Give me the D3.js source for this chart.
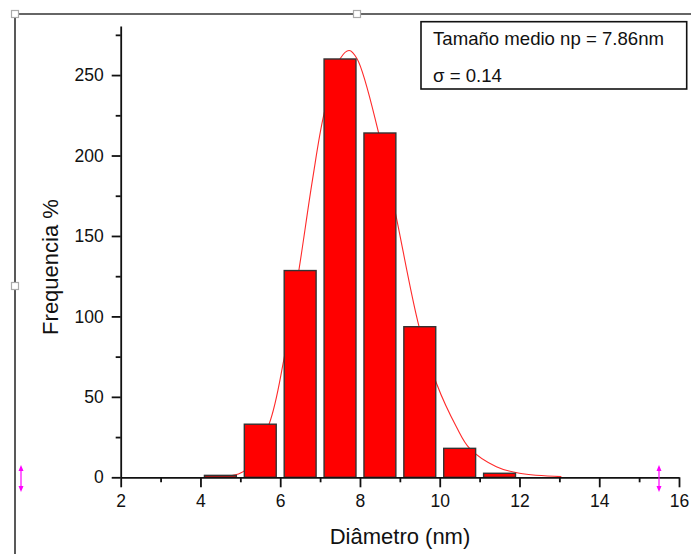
<!DOCTYPE html>
<html>
<head>
<meta charset="utf-8">
<script src="https://cdn.jsdelivr.net/npm/d3@7"></script>
<style>
  body { margin: 0; background: #fff; }
  svg { display: block; font-family: "Liberation Sans", Arial, sans-serif; }
</style>
</head>
<body>
<svg id="chart" width="691" height="554"></svg>
<script>
// histogram bins (left edge of each 1 nm bin) and counts
const binStarts = [4, 5, 6, 7, 8, 9, 10, 11]
const binCounts = [1.2, 33, 128.5, 260, 214, 93.6, 18, 2.5]

// fitted curve
const fitX = [4.5, 4.82, 5.12, 5.72, 6.09, 6.47, 6.81, 7.10, 7.51, 7.73, 7.93, 8.46, 8.90, 9.48, 9.92, 10.42, 10.75, 11.42, 12.0, 13.05]
const fitY = [0, 1.2, 4.5, 33, 73, 129, 185, 226, 260.5, 265.3, 260, 214.8, 163, 93.8, 58.3, 31.3, 18, 6.6, 2.5, 0.4]

const xMajor = [2, 4, 6, 8, 10, 12, 14, 16]
const xMinor = [3, 5, 7, 9, 11, 13, 15]
const yMajor = [0, 50, 100, 150, 200, 250]
const yMinor = [25, 75, 125, 175, 225, 275]

const infoLines = ["Tamaño medio np = 7.86nm", "σ = 0.14"]

const svg = d3.select("#chart")

const x = d3.scaleLinear().domain([2, 16]).range([120.7, 679])
const y = d3.scaleLinear().domain([0, 280.5]).range([477.3, 26])

// page frame bits (origin graph layer)
svg.append("line")
    .attr("x1", 15).attr("x2", 691).attr("y1", 14).attr("y2", 14)
    .attr("stroke", "#666").attr("stroke-width", 2)
svg.append("line")
    .attr("x1", 15).attr("x2", 15).attr("y1", 14).attr("y2", 554)
    .attr("stroke", "#222").attr("stroke-width", 1.5)
;[[15, 14], [357, 14], [15, 286]].forEach(p => {
    svg.append("rect")
        .attr("x", p[0] - 3.5).attr("y", p[1] - 3.5)
        .attr("width", 7).attr("height", 7)
        .attr("fill", "#fff").attr("stroke", "#aaa").attr("stroke-width", 1.2)
})

// fit line goes behind the bars
const line = d3.line()
    .x((d, i) => x(fitX[i]))
    .y(d => y(d))
    .curve(d3.curveCatmullRom)
svg.append("path")
    .attr("d", line(fitY))
    .attr("fill", "none")
    .attr("stroke", "#ff2a2a")
    .attr("stroke-width", 1.1)

svg.append("g")
    .selectAll("rect")
    .data(binCounts)
    .join("rect")
    .attr("x", (d, i) => x(binStarts[i] + 0.1))
    .attr("width", (d, i) => x(binStarts[i] + 0.9) - x(binStarts[i] + 0.1))
    .attr("y", d => y(d))
    .attr("height", d => y(0) - y(d))
    .attr("fill", "#ff0000")
    .attr("stroke", "#333")
    .attr("stroke-width", 1.4)

// axes
svg.append("g")
    .attr("transform", `translate(0,${y(0)})`)
    .call(d3.axisBottom(x).tickValues(xMajor).tickSize(10).tickSizeOuter(0).tickPadding(7))
svg.append("g")
    .attr("transform", `translate(0,${y(0)})`)
    .call(d3.axisBottom(x).tickValues(xMinor).tickSize(5).tickFormat(""))
    .select(".domain").remove()

svg.append("g")
    .attr("transform", `translate(${x(2)},0)`)
    .call(d3.axisLeft(y).tickValues(yMajor).tickSize(9).tickSizeOuter(0).tickPadding(8))
svg.append("g")
    .attr("transform", `translate(${x(2)},0)`)
    .call(d3.axisLeft(y).tickValues(yMinor).tickSize(5).tickFormat(""))
    .select(".domain").remove()

svg.selectAll(".tick line, .domain")
    .attr("stroke", "#111")
    .attr("stroke-width", 1.8)
svg.selectAll(".tick text")
    .attr("fill", "#111")
    .style("font-size", "17.5px")
    .style("font-family", "'Liberation Sans', Arial, sans-serif")

// axis titles
svg.append("text")
    .attr("x", 400).attr("y", 544)
    .attr("text-anchor", "middle")
    .style("font-size", "22px")
    .attr("fill", "#111")
    .text("Diâmetro (nm)")
svg.append("text")
    .attr("transform", "translate(58,267) rotate(-90)")
    .attr("text-anchor", "middle")
    .style("font-size", "22px")
    .attr("fill", "#111")
    .text("Frequencia %")

// info box
svg.append("rect")
    .attr("x", 421).attr("y", 21.7)
    .attr("width", 265.7).attr("height", 67.3)
    .attr("fill", "#fff").attr("stroke", "#111").attr("stroke-width", 1.6)
svg.selectAll(".info")
    .data(infoLines)
    .join("text")
    .attr("class", "info")
    .attr("x", 433).attr("y", (d, i) => 45 + i * 36.7)
    .style("font-size", "18.6px")
    .attr("fill", "#111")
    .text(d => d)

// magenta resize arrows
function vArrow(cx){
    const g = svg.append("g").attr("stroke", "#ff00ff").attr("fill", "#ff00ff")
    g.append("line").attr("x1", cx).attr("x2", cx).attr("y1", 467).attr("y2", 490).attr("stroke-width", 1.2)
    g.append("path").attr("d", `M${cx},465 L${cx-2.5},471 L${cx+2.5},471 Z`).attr("stroke", "none")
    g.append("path").attr("d", `M${cx},492 L${cx-2.5},486 L${cx+2.5},486 Z`).attr("stroke", "none")
}
vArrow(21)
vArrow(659)
</script>
</body>
</html>
